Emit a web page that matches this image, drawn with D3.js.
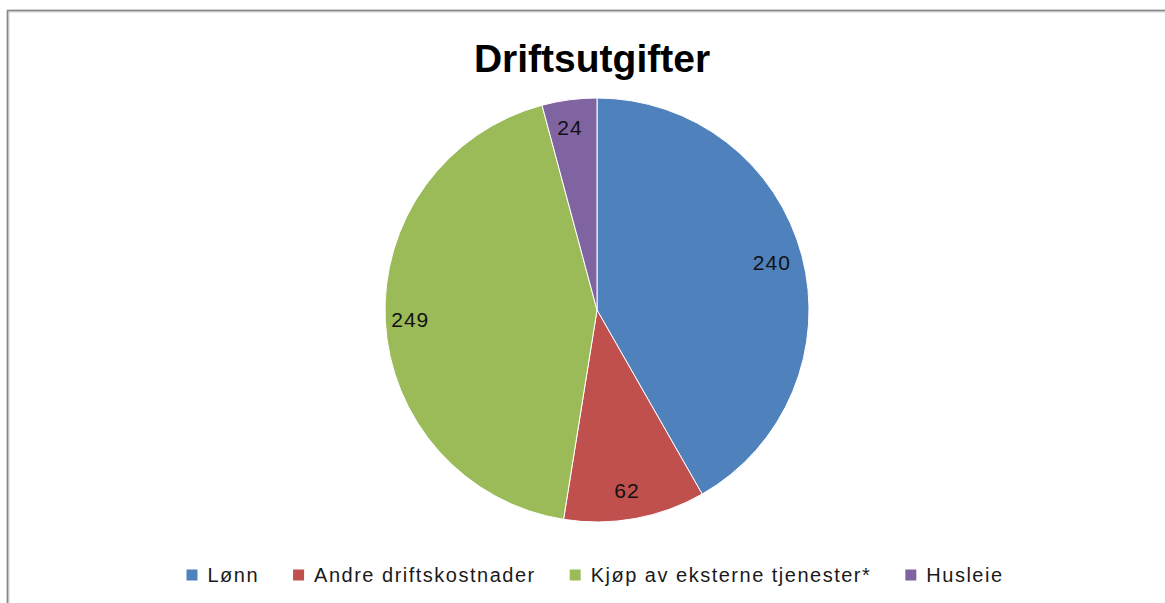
<!DOCTYPE html>
<html>
<head>
<meta charset="utf-8">
<script src="https://cdn.jsdelivr.net/npm/d3@7"></script>
<style>
  html, body { margin: 0; padding: 0; background: #fff; }
  svg { display: block; font-family: "Liberation Sans", Arial, sans-serif; }
</style>
</head>
<body>
<svg id="chart" width="1165" height="603"></svg>
<script>
// Data
const categories = ['Lønn', 'Andre driftskostnader', 'Kjøp av eksterne tjenester*', 'Husleie'];
const values = [240, 62, 249, 24];
const colors = ['#4F81BD', '#C0504D', '#9BBB59', '#8064A2'];
const title = 'Driftsutgifter';

const svg = d3.select('#chart');
const width = 1165, height = 603;

// frame (only top and left edges visible in the crop)
svg.append('line').attr('x1', 7).attr('x2', width).attr('y1', 11).attr('y2', 11)
    .attr('stroke', '#d8d8d8').attr('stroke-width', 3);
svg.append('line').attr('x1', 8).attr('x2', 8).attr('y1', 10).attr('y2', height)
    .attr('stroke', '#d8d8d8').attr('stroke-width', 3);
svg.append('line').attr('x1', 7).attr('x2', width).attr('y1', 10.5).attr('y2', 10.5)
    .attr('stroke', '#888').attr('stroke-width', 1.5);
svg.append('line').attr('x1', 7.5).attr('x2', 7.5).attr('y1', 10).attr('y2', height)
    .attr('stroke', '#888').attr('stroke-width', 1.5);

// title
svg.append('text').attr('x', 592).attr('y', 72).attr('text-anchor', 'middle')
    .style('font-size', '39px').style('font-weight', 'bold').attr('fill', '#000')
    .text(title);

// pie
const cx = 597, cy = 310, r = 212;
const data = categories.map((c, i) => ({ name: c, value: values[i], color: colors[i] }));
const pie = d3.pie().value(d => d.value).sort(null);
const arc = d3.arc().innerRadius(0).outerRadius(r);
const labelArc = d3.arc().innerRadius(184).outerRadius(184);

const g = svg.append('g').attr('transform', `translate(${cx},${cy})`);
const arcs = pie(data);

g.selectAll('path').data(arcs).enter().append('path')
    .attr('d', arc).attr('fill', d => d.data.color)
    .attr('stroke', '#fff').attr('stroke-width', 1);

g.selectAll('text.lbl').data(arcs).enter().append('text')
    .attr('class', 'lbl')
    .attr('transform', d => { const c = labelArc.centroid(d); return `translate(${c[0] - 3},${c[1]})`; })
    .attr('text-anchor', 'middle').attr('dy', '0.35em')
    .style('font-size', '21px').style('letter-spacing', '1px').attr('fill', '#111')
    .text(d => d.data.value);

// legend
const legend = svg.append('g').attr('transform', 'translate(0,575)');
const items = legend.selectAll('g').data(data).enter().append('g');
items.append('rect').attr('width', 11).attr('height', 11).attr('y', -5.5)
    .attr('fill', d => d.color);
items.append('text').attr('x', 21).attr('dy', '0.35em')
    .style('font-size', '20px').style('letter-spacing', '1.5px').attr('fill', '#1a1a1a')
    .text(d => d.name);

const gap = 34;
let widths = [];
items.each(function () { widths.push(this.getBBox().width); });
const total = d3.sum(widths) + gap * (widths.length - 1);
let x = 595 - total / 2;
items.each(function (d, i) {
  d3.select(this).attr('transform', `translate(${x},0)`);
  x += widths[i] + gap;
});
</script>
</body>
</html>
